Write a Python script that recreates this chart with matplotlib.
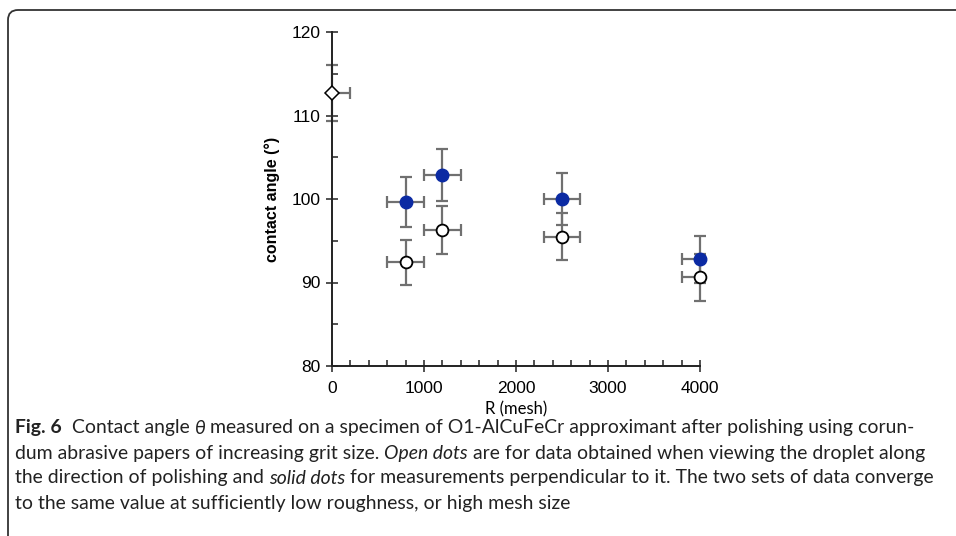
import matplotlib
matplotlib.use("Agg")
import matplotlib.pyplot as plt
from matplotlib.patches import FancyBboxPatch
from matplotlib.transforms import IdentityTransform

# data
mesh_open = [0, 800, 1200, 2500, 4000]
angle_open = [112.7, 92.4, 96.3, 95.5, 90.6]
err_open = [3.3, 2.7, 2.85, 2.85, 2.8]
xerr_open = [[0, 200, 200, 200, 200], [200, 200, 200, 200, 0]]

mesh_solid = [800, 1200, 2500, 4000]
angle_solid = [99.6, 102.9, 100.0, 92.8]
err_solid = [3.0, 3.1, 3.1, 2.8]
xerr_solid = [[200, 200, 200, 200], [200, 200, 200, 0]]

caption_lines = [
    [("Fig. 6", "bold"), ("  Contact angle ", "normal"), ("θ", "italic"),
     (" measured on a specimen of O1-AlCuFeCr approximant after polishing using corun-", "normal")],
    [("dum abrasive papers of increasing grit size. ", "normal"), ("Open dots", "italic"),
     (" are for data obtained when viewing the droplet along", "normal")],
    [("the direction of polishing and ", "normal"), ("solid dots", "italic"),
     (" for measurements perpendicular to it. The two sets of data converge", "normal")],
    [("to the same value at sufficiently low roughness, or high mesh size", "normal")],
]

cap_font = ["Lato", "DejaVu Sans"]
plt.rcParams["font.family"] = ["Liberation Sans", "DejaVu Sans"]

W, H = 956, 536
fig = plt.figure(figsize=(W / 100, H / 100), dpi=100)
ax = fig.add_axes([332 / W, 1 - 366 / H, 368 / W, 334 / H])

gray = "#707070"
blue = "#0b2aa3"

for xs, ys, ye, xe in [(mesh_open, angle_open, err_open, xerr_open),
                       (mesh_solid, angle_solid, err_solid, xerr_solid)]:
    eb = ax.errorbar(xs, ys, yerr=ye, xerr=xe, fmt="none", ecolor=gray,
                     elinewidth=1.6, capsize=4, capthick=1.6, zorder=2)
    for art in eb.lines[1] + eb.lines[2]:
        art.set_clip_on(False)
ax.plot(mesh_open[1:], angle_open[1:], "o", ms=8.5, mfc="white", mec="black",
        mew=1.3, zorder=4, clip_on=False)
ax.plot(mesh_open[:1], angle_open[:1], "D", ms=7, mfc="white", mec="black",
        mew=1.1, zorder=4, clip_on=False)
ax.plot(mesh_solid, angle_solid, "o", ms=9, color=blue, zorder=4, clip_on=False)

ax.set_xlim(0, 4000)
ax.set_ylim(80, 120)
ax.set_xticks([0, 1000, 2000, 3000, 4000])
ax.set_xticks(range(0, 4001, 200), minor=True)
ax.set_yticks([80, 90, 100, 110, 120])
ax.set_yticks([85, 95, 105, 115], minor=True)
ax.tick_params(which="major", direction="inout", length=9, width=1.2,
               color="#333333", labelsize=12.5, pad=4)
ax.tick_params(axis="x", which="major", pad=6)
ax.tick_params(which="minor", direction="in", length=4, width=1.2, color="#333333")
for s in ["top", "right"]:
    ax.spines[s].set_visible(False)
for s in ["left", "bottom"]:
    ax.spines[s].set_linewidth(1.4)
    ax.spines[s].set_color("#222222")
ax.set_ylabel("contact angle (°)", fontsize=11.5, fontweight="bold", labelpad=8)
ax.set_xlabel("R (mesh)", fontsize=12, family=cap_font, labelpad=4)

# rounded frame, in pixels, running off the right and bottom edges
frame = FancyBboxPatch((8, -60), 1100, H - 10 + 60, boxstyle="round,pad=0,rounding_size=10",
                       transform=IdentityTransform(), fill=False, lw=1.3, ec="#333333")
fig.patches.append(frame)

fig.canvas.draw()
renderer = fig.canvas.get_renderer()


def draw_caption(size):
    texts, widths = [], []
    for pieces, y in zip(caption_lines, [428, 453, 478, 503]):
        x = 15
        for txt, style in pieces:
            kw = dict(fontsize=size, family=cap_font, va="center", ha="left", color="#222222")
            if style == "bold":
                kw["fontweight"] = "bold"
            if style == "italic":
                kw["fontstyle"] = "italic"
            t = fig.text(x / W, 1 - y / H, txt, **kw)
            texts.append(t)
            x += t.get_window_extent(renderer).width
        widths.append(x - 15)
    return texts, widths


# size the caption so the third line spans the same width as in the figure
base = 13.0
tmp, widths = draw_caption(base)
for t in tmp:
    t.remove()
draw_caption(base * 918 / widths[2])

fig.savefig("out.png", dpi=100)
